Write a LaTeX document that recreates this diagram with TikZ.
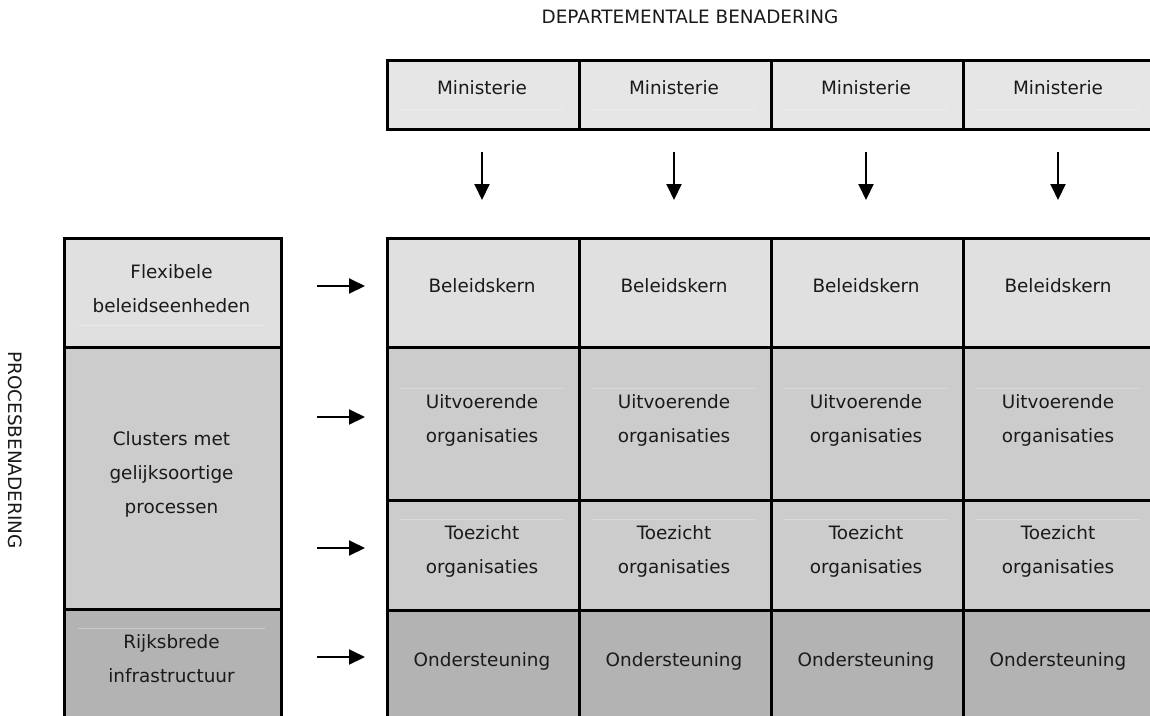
\documentclass[tikz,border=0pt]{standalone}
\usepackage{fontspec}
\setmainfont{DejaVu Sans}
\usetikzlibrary{arrows.meta}
\definecolor{cA}{HTML}{E6E6E6}
\definecolor{cB}{HTML}{E0E0E0}
\definecolor{cC}{HTML}{CCCCCC}
\definecolor{cD}{HTML}{B3B3B3}
\definecolor{ink}{HTML}{1A1A1A}
\begin{document}
\begin{tikzpicture}[x=1pt,y=-1pt,
  cell/.style={draw=black, line width=2.8pt, rectangle, inner sep=0pt, anchor=north west},
  txt/.style={anchor=base, inner sep=0pt, font=\fontsize{18.4}{22}\selectfont, text=ink},
  hdr/.style={inner sep=0pt, font=\fontsize{18.4}{22}\selectfont, text=ink},
  arr/.style={line width=2pt, -{Triangle[width=15pt,length=16pt]}},
  faint/.style={draw=white, opacity=0.3, line width=1pt}
]
\useasboundingbox (0,0) rectangle (1150,715);
\clip (0,0) rectangle (1150,715);

% headings
\node[hdr] (title) at (690,16.5) {DEPARTEMENTALE BENADERING};
\node[hdr, rotate=-90] (side) at (15.5,450) {PROCESBENADERING};

% left panel
\node[cell, fill=cB, minimum width=217pt, minimum height=109pt] (l1) at (63,237) {};
\node[cell, fill=cC, minimum width=217pt, minimum height=262pt] (l2) at (63,346) {};
\node[cell, fill=cD, minimum width=217pt, minimum height=120pt] (l3) at (63,608) {};
\draw[faint] (78,325) -- (265,325);
\draw[faint] (78,628) -- (265,628);
\node[txt] (l1a) at (171.5,278) {Flexibele};
\node[txt] (l1b) at (171.5,312) {beleidseenheden};
\node[txt] (l2a) at (171.5,445) {Clusters met};
\node[txt] (l2b) at (171.5,479) {gelijksoortige};
\node[txt] (l2c) at (171.5,513) {processen};
\node[txt] (l3a) at (171.5,648) {Rijksbrede};
\node[txt] (l3b) at (171.5,682) {infrastructuur};

% grid columns (last column runs past the right edge)
\foreach \i/\w in {1/192,2/192,3/192,4/200}{
  \pgfmathsetmacro{\xl}{386+192*(\i-1)}
  \pgfmathsetmacro{\cx}{\xl+96}
  \node[cell, fill=cA, minimum width=\w pt, minimum height=69pt] (m\i) at (\xl,59) {};
  \node[cell, fill=cB, minimum width=\w pt, minimum height=109pt] (b\i) at (\xl,237) {};
  \node[cell, fill=cC, minimum width=\w pt, minimum height=153pt] (u\i) at (\xl,346) {};
  \node[cell, fill=cC, minimum width=\w pt, minimum height=110pt] (z\i) at (\xl,499) {};
  \node[cell, fill=cD, minimum width=\w pt, minimum height=120pt] (o\i) at (\xl,609) {};
  \draw[faint] (\xl+14,109) -- (\xl+177,109);
  \draw[faint] (\xl+14,388) -- (\xl+177,388);
  \draw[faint] (\xl+14,519) -- (\xl+177,519);
  \node[txt] (mt\i) at (\cx,94) {Ministerie};
  \node[txt] (bt\i) at (\cx,292.5) {Beleidskern};
  \node[txt] (ua\i) at (\cx,408) {Uitvoerende};
  \node[txt] (ub\i) at (\cx,442) {organisaties};
  \node[txt] (za\i) at (\cx,539) {Toezicht};
  \node[txt] (zb\i) at (\cx,573) {organisaties};
  \node[txt] (ot\i) at (\cx,666) {Ondersteuning};
  \coordinate (va\i) at (\cx,152);
  \coordinate (vb\i) at (\cx,200);
  \draw[arr] (va\i) -- (vb\i);
}

% horizontal arrows
\foreach \j/\yy in {1/286,2/417,3/548,4/657}{
  \coordinate (ha\j) at (317,\yy);
  \coordinate (hb\j) at (365,\yy);
  \draw[arr] (ha\j) -- (hb\j);
}
\end{tikzpicture}
\end{document}
